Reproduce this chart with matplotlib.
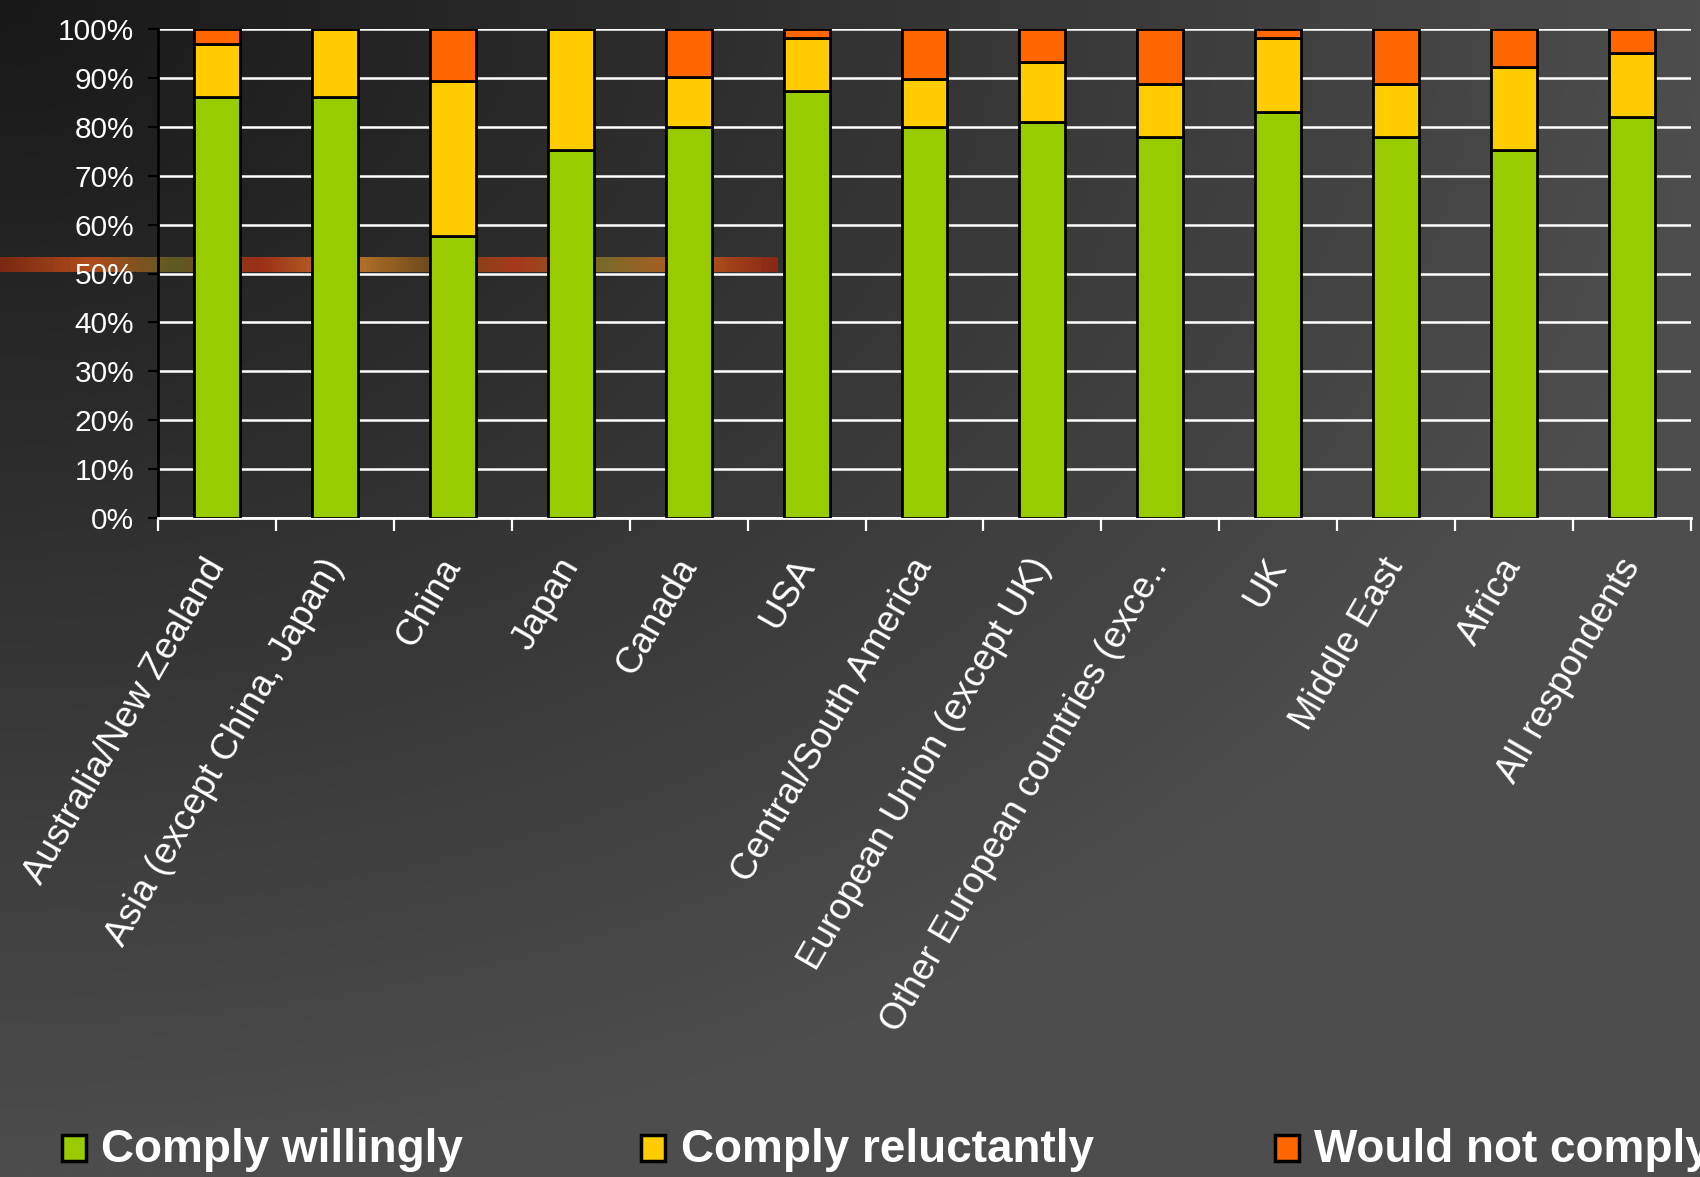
import numpy as np
import matplotlib
matplotlib.use('Agg')
import matplotlib.pyplot as plt
from matplotlib.patches import Rectangle
from matplotlib.colors import LinearSegmentedColormap

plt.rcParams['font.family'] = ['Liberation Sans', 'DejaVu Sans']

# Data (percent of respondents)
regions = ['Australia/New Zealand', 'Asia (except China, Japan)', 'China', 'Japan',
           'Canada', 'USA', 'Central/South America', 'European Union (except UK)',
           'Other European countries (exce..', 'UK', 'Middle East', 'Africa',
           'All respondents']
willingly = [86, 86, 57.7, 75.2, 80, 87.3, 80, 81, 78, 83, 78, 75.2, 82]
reluctantly = [11, 14, 31.6, 24.8, 10.2, 10.8, 9.8, 12.3, 10.8, 15.1, 10.8, 17, 13.1]
would_not = [3, 0, 10.7, 0, 9.8, 1.9, 10.2, 6.7, 11.2, 1.9, 11.2, 7.8, 4.9]
series_names = ['Comply willingly', 'Comply reluctantly', 'Would not comply']
series_colors = ['#99CC00', '#FFCC00', '#FF6600']

fig = plt.figure(figsize=(17, 11.77), dpi=100)

# background gradient (dark top-left to lighter grey)
bg = fig.add_axes([0, 0, 1, 1], zorder=-10)
gx, gy = np.meshgrid(np.linspace(0, 1, 340), np.linspace(0, 1, 236))
d = np.clip(np.sqrt(gx ** 2 + gy ** 2), 0, 1)
shade = (0x18 + (0x4d - 0x18) * d) / 255.0
bg.imshow(np.dstack([shade, shade, shade]), aspect='auto', extent=[0, 1, 0, 1],
          origin='upper', interpolation='bilinear')
bg.set_axis_off()

# decorative photo strip behind the chart
strip = fig.add_axes([0, 1 - 272 / 1177, 778 / 1700, 15 / 1177], zorder=-5)
strip_cmap = LinearSegmentedColormap.from_list(
    'strip', ['#7a2a12', '#b04a1c', '#5e5a22', '#9c2e16', '#c0762c', '#6a4a1c',
              '#a8381a', '#7a6a2a', '#b85a20', '#8a2814'])
strip.imshow(np.linspace(0, 1, 200).reshape(1, -1), cmap=strip_cmap, aspect='auto',
             extent=[0, 1, 0, 1])
strip.set_axis_off()

ax = fig.add_axes([158 / 1700, 1 - 518 / 1177, (1691 - 158) / 1700, (518 - 29) / 1177])
ax.patch.set_alpha(0)

x = np.arange(len(regions))
w = 0.39
bottom = np.zeros(len(regions))
for vals, name, col in zip([willingly, reluctantly, would_not], series_names, series_colors):
    ax.bar(x, vals, w, bottom=bottom, color=col, edgecolor='black', linewidth=2,
           label=name, zorder=3)
    bottom = bottom + np.array(vals)

ax.set_xlim(-0.5, len(regions) - 0.5)
ax.set_ylim(0, 100)
ax.set_yticks(np.arange(0, 101, 10))
ax.set_yticklabels([f'{v}%' for v in range(0, 101, 10)], fontsize=21.5, color='white')
ax.yaxis.grid(True, color='white', linewidth=1.8)
ax.set_axisbelow(True)

ax.set_xticks(x)
ax.set_xticklabels(regions, rotation=60, ha='right', va='center',
                   rotation_mode='anchor', fontsize=26.5, color='white')
ax.set_xticks(np.arange(-0.5, len(regions)), minor=True)
ax.tick_params(axis='x', which='major', length=0, pad=31)
ax.tick_params(axis='x', which='minor', length=9, width=1.6, color='white')
ax.tick_params(axis='y', length=7, width=1.6, color='black', pad=10)

for s in ['top', 'right']:
    ax.spines[s].set_visible(False)
ax.spines['left'].set_color('black')
ax.spines['left'].set_linewidth(2)
ax.spines['bottom'].set_color('white')
ax.spines['bottom'].set_linewidth(2)

# legend along the bottom
sq_x = [62, 641, 1275]
txt_x = [101, 681, 1314]
for sx, tx, name, col in zip(sq_x, txt_x, series_names, series_colors):
    fig.patches.append(Rectangle((sx / 1700, 1 - 1161 / 1177), 24 / 1700, 26 / 1177,
                                 transform=fig.transFigure, facecolor=col,
                                 edgecolor='black', linewidth=2.5))
    fig.text(tx / 1700, 1 - 1150 / 1177, name, fontsize=33, fontweight='bold',
             color='white', va='center', ha='left')

fig.savefig('out.png', dpi=100)
